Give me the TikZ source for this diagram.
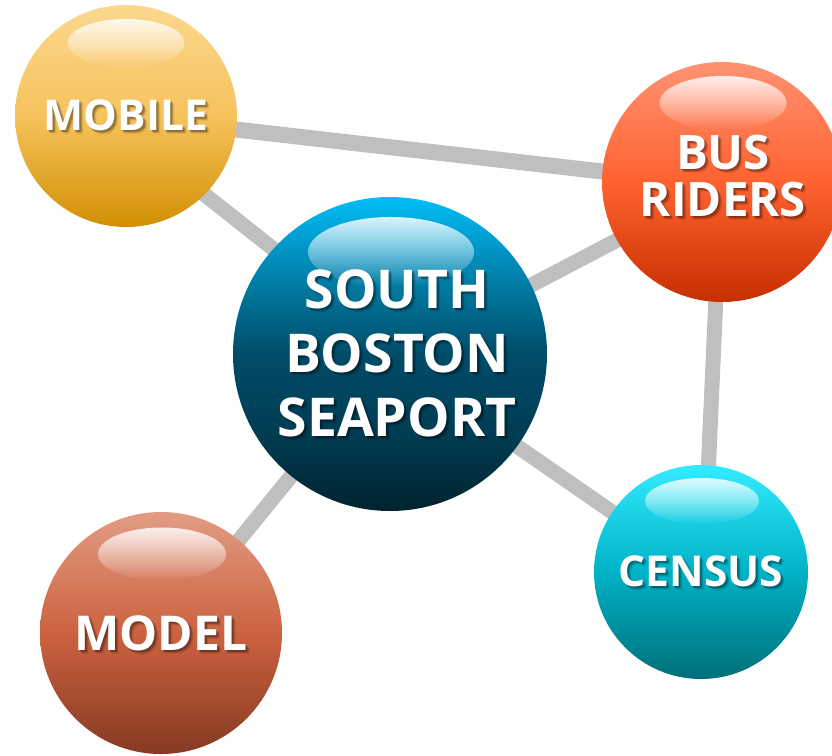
\documentclass[tikz,border=0pt]{standalone}
\usepackage{fontspec}
\setmainfont{Open Sans}[BoldFont={* Bold}]
\usetikzlibrary{shapes.geometric,fadings}
\definecolor{sb1}{HTML}{00BDF8}\definecolor{sb1b}{HTML}{007FA8}\definecolor{sb2}{HTML}{004C69}\definecolor{sb2b}{HTML}{003C52}\definecolor{sb3}{HTML}{00232F}
\definecolor{mo1}{HTML}{FBD88F}\definecolor{mo2}{HTML}{F6C25C}\definecolor{mo3}{HTML}{D18F02}
\definecolor{bu1}{HTML}{FF9272}\definecolor{bu2}{HTML}{FF6230}\definecolor{bu3}{HTML}{C62F00}
\definecolor{ce1}{HTML}{33EBFF}\definecolor{ce2}{HTML}{00B2C6}\definecolor{ce3}{HTML}{007079}
\definecolor{md1}{HTML}{E29C84}\definecolor{md2}{HTML}{CC6240}\definecolor{md3}{HTML}{853A22}
\definecolor{linkgrey}{HTML}{BFBFBF}
% vertical sphere shadings (25bp = bottom of shape, 75bp = top)
\pgfdeclareverticalshading{seaportball}{100bp}{color(0bp)=(sb3);color(25bp)=(sb3);color(37bp)=(sb2b);color(50bp)=(sb2);color(62bp)=(sb1b);color(75bp)=(sb1);color(100bp)=(sb1)}
\pgfdeclareverticalshading{mobileball}{100bp}{color(0bp)=(mo3);color(25bp)=(mo3);color(50bp)=(mo2);color(75bp)=(mo1);color(100bp)=(mo1)}
\pgfdeclareverticalshading{busball}{100bp}{color(0bp)=(bu3);color(25bp)=(bu3);color(50bp)=(bu2);color(75bp)=(bu1);color(100bp)=(bu1)}
\pgfdeclareverticalshading{censusball}{100bp}{color(0bp)=(ce3);color(25bp)=(ce3);color(50bp)=(ce2);color(75bp)=(ce1);color(100bp)=(ce1)}
\pgfdeclareverticalshading{modelball}{100bp}{color(0bp)=(md3);color(25bp)=(md3);color(50bp)=(md2);color(75bp)=(md1);color(100bp)=(md1)}
\tikzfading[name=glossfade,top color=transparent!0,middle color=transparent!65,bottom color=transparent!100]
\tikzset{
  ball/.style={circle,inner sep=0pt,outer sep=0pt,minimum size=#1},
  gloss/.style={ellipse,inner sep=0pt,outer sep=0pt,fill=white,path fading=glossfade,fill opacity=.85},
  link/.style={draw=linkgrey,line width=15pt,shorten >=-8pt,shorten <=-8pt},
  lab/.style={text=white,align=center,inner sep=0pt}
}
% label with soft drop shadow: name, x, y, size, line pitch, text
\newcommand{\softlabel}[6]{%
  \foreach \dx/\dy/\op in {1/1/.10,2/2/.14,3/3/.10,4/4/.05,3/2/.06,2/3/.06}
    \node[lab,text=black,text opacity=\op,font=\fontsize{#4}{#5}\selectfont\bfseries] at (#2+\dx,#3+\dy) {#6};
  \node[lab,font=\fontsize{#4}{#5}\selectfont\bfseries] (#1) at (#2,#3) {#6};
}
\begin{document}
\begin{tikzpicture}[x=1pt,y=-1pt]
\useasboundingbox (0,0) rectangle (832,755);
\clip (0,0) rectangle (832,755);
\coordinate (cc) at (390,354);
\node[ball=314pt] (seaport) at (cc) {};
\node[ball=222pt] (mobile) at (126,116) {};
\node[ball=240pt] (bus) at (722,182) {};
\node[ball=214pt] (census) at (701,572) {};
\node[ball=242pt] (model) at (161,633) {};
\draw[link,line width=16pt] (mobile.-7) -- (bus.175);
\draw[link] (mobile.-45) -- (seaport.138);
\draw[link] (seaport.26) -- (bus.209);
\draw[link] (seaport.-36) -- (census.146.5);
\draw[link] (bus.-93) -- (census.86);
\draw[link] (seaport.231.8) -- (model.50);
\node[ball=314pt,shading=seaportball] at (seaport) {};
\node[ball=222pt,shading=mobileball] at (mobile) {};
\node[ball=240pt,shading=busball] at (bus) {};
\node[ball=214pt,shading=censusball] at (census) {};
\node[ball=242pt,shading=modelball] at (model) {};
\node[gloss,minimum width=166pt,minimum height=70pt] (gs) at (391,252) {};
\node[gloss,minimum width=117pt,minimum height=48pt] (gm) at (126,43) {};
\node[gloss,minimum width=127pt,minimum height=54pt] (gb) at (723,103) {};
\node[gloss,minimum width=114pt,minimum height=46pt] (gc) at (702,501) {};
\node[gloss,minimum width=128pt,minimum height=53pt] (gd) at (162,554) {};
\softlabel{ls}{397}{353}{53.5}{64}{SOUTH\\BOSTON\\SEAPORT}
\softlabel{lm}{126}{115}{42.5}{50}{MOBILE}
\softlabel{lb}{723}{176}{47.5}{47}{BUS\\RIDERS}
\softlabel{lc}{701}{571}{42.5}{50}{CENSUS}
\softlabel{ld}{161}{633}{48}{50}{MODEL}
\end{tikzpicture}
\end{document}
